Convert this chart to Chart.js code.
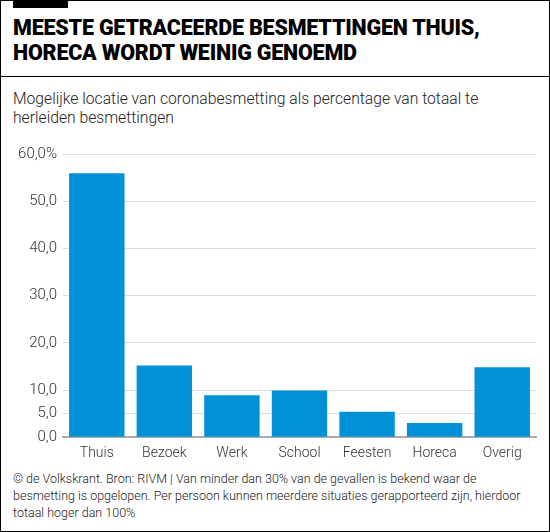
<!DOCTYPE html>
<html>
<head>
<meta charset="utf-8">
<script src="https://cdn.jsdelivr.net/npm/chart.js@4/dist/chart.umd.min.js"></script>
<style>
    body { margin: 0; background: #fff; }
    #frame { position: relative; width: 548px; height: 530px; border: 1px solid #000; overflow: hidden; }
    #topbar { position: absolute; left: 12px; top: 0; width: 55px; height: 7px; background: #000; }
    #title { position: absolute; left: 12px; top: 14px; font-family: Roboto, sans-serif; font-weight: 900; font-size: 21.5px; line-height: 25px; color: #000; letter-spacing: -0.2px; }
    #sep { position: absolute; left: 0; top: 75px; width: 548px; height: 1px; background: #000; }
    #subtitle { position: absolute; left: 12px; top: 88px; font-family: Roboto, sans-serif; font-weight: 300; font-size: 15.7px; line-height: 19px; color: #222; }
    #chartBox { position: absolute; left: 0; top: 138px; width: 548px; height: 326px; }
    #footer { position: absolute; left: 12px; top: 469px; font-family: Roboto, sans-serif; font-weight: 300; font-size: 12.5px; line-height: 17px; color: #222; }
</style>
</head>
<body>
<div id="frame">
    <div id="topbar"></div>
    <div id="title">MEESTE GETRACEERDE BESMETTINGEN THUIS,<br>HORECA WORDT WEINIG GENOEMD</div>
    <div id="sep"></div>
    <div id="subtitle">Mogelijke locatie van coronabesmetting als percentage van totaal te<br>herleiden besmettingen</div>
    <div id="chartBox"><canvas id="locatieChart"></canvas></div>
    <div id="footer">© de Volkskrant. Bron: RIVM | Van minder dan 30% van de gevallen is bekend waar de<br>besmetting is opgelopen. Per persoon kunnen meerdere situaties gerapporteerd zijn, hierdoor<br>totaal hoger dan 100%</div>
</div>
<script>
// Data uit de grafiek
const categories = ['Thuis', 'Bezoek', 'Werk', 'School', 'Feesten', 'Horeca', 'Overig'];
const percentages = [55.9, 15.2, 8.9, 9.9, 5.4, 3.0, 14.8];
const yTicks = [0, 5, 10, 20, 30, 40, 50, 60];

function formatPct(value) {
    let s = value.toFixed(1).replace('.', ',');
    return value === 60 ? s + '%' : s;
}

const ctx = document.getElementById('locatieChart').getContext('2d');

new Chart(ctx, {
    type: 'bar',
    data: {
        labels: categories,
        datasets: [{
            data: percentages,
            backgroundColor: '#0091d6',
            barPercentage: 0.82,
            categoryPercentage: 1.0
        }]
    },
    options: {
        responsive: true,
        maintainAspectRatio: false,
        animation: false,
        layout: {
            padding: { top: 6, right: 13, left: 0, bottom: 3 }
        },
        plugins: {
            legend: { display: false },
            tooltip: { enabled: false }
        },
        scales: {
            x: {
                grid: { display: false },
                border: { color: '#aaaaaa', width: 2 },
                ticks: {
                    color: '#333',
                    font: { family: 'Roboto', size: 14, weight: 300 },
                    padding: 0
                }
            },
            y: {
                min: 0,
                max: 60,
                afterBuildTicks: function (scale) {
                    scale.ticks = yTicks.map(v => ({ value: v }));
                },
                afterFit: function (scale) {
                    scale.width = 62;
                },
                grid: {
                    color: '#dddddd',
                    drawTicks: false
                },
                border: { display: false },
                ticks: {
                    color: '#333',
                    font: { family: 'Roboto', size: 15, weight: 300 },
                    padding: 6,
                    callback: function (value) {
                        return formatPct(value);
                    }
                }
            }
        }
    }
});
</script>
</body>
</html>
